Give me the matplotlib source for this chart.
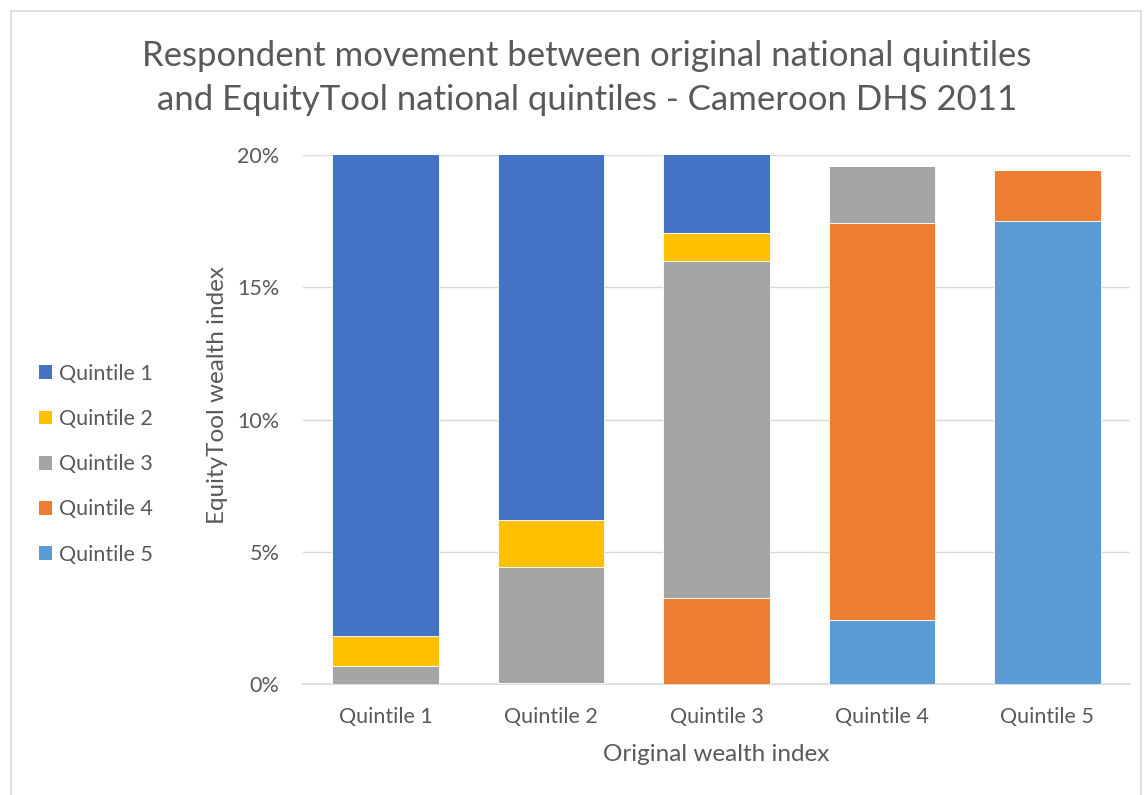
import matplotlib
matplotlib.use("Agg")
import matplotlib.pyplot as plt
from matplotlib.lines import Line2D
from matplotlib.patches import Patch
import numpy as np

plt.rcParams['font.family'] = ['Lato', 'DejaVu Sans']

# original wealth quintile (x categories)
categories = ["Quintile 1", "Quintile 2", "Quintile 3", "Quintile 4", "Quintile 5"]

# share of respondents (%) in each EquityTool quintile, per original quintile
q5 = [0.0, 0.0, 0.0, 2.42, 17.49]
q4 = [0.0, 0.04, 3.24, 15.00, 1.94]
q3 = [0.69, 4.38, 12.75, 2.15, 0.02]
q2 = [1.12, 1.78, 1.06, 0.03, 0.0]
q1 = [18.4, 14.0, 3.0, 0.0, 0.0]

series = [("Quintile 1", q1, "#4472C4"),
          ("Quintile 2", q2, "#FFC000"),
          ("Quintile 3", q3, "#A5A5A5"),
          ("Quintile 4", q4, "#ED7D31"),
          ("Quintile 5", q5, "#5B9BD5")]

text_col = "#595959"

fig = plt.figure(figsize=(11.46, 7.95), dpi=100)
ax = fig.add_axes([0.2644, 0.1396, 0.7216, 0.6654])

x = np.arange(len(categories))
bottom = np.zeros(len(categories))
# stack from Quintile 5 at the bottom up to Quintile 1
for name, vals, col in series[::-1]:
    vals = np.array(vals)
    ax.bar(x, vals, 0.645, bottom=bottom, color=col, edgecolor="white",
           linewidth=0.6, zorder=3)
    bottom += vals

ax.set_xlim(-0.5, 4.5)
ax.set_ylim(0, 20)
ax.set_yticks([0, 5, 10, 15, 20])
ax.set_yticklabels(["0%", "5%", "10%", "15%", "20%"])
ax.set_xticks(x)
ax.set_xticklabels(categories)
ax.yaxis.grid(True, color="#D9D9D9", linewidth=1.0, zorder=0)
for s in ["top", "right", "left"]:
    ax.spines[s].set_visible(False)
ax.spines["bottom"].set_color("#D9D9D9")
ax.spines["bottom"].set_linewidth(1.2)
ax.tick_params(axis="both", length=0, labelsize=15.5, colors=text_col)
ax.tick_params(axis="y", pad=17)
ax.tick_params(axis="x", pad=16.5)

ax.set_xlabel("Original wealth index", fontsize=17.5, color=text_col, labelpad=12)
fig.text(0.19, 0.503, "EquityTool wealth index", rotation=90, fontsize=17.5,
         color=text_col, ha="center", va="center")

fig.text(0.512, 0.93, "Respondent movement between original national quintiles",
         fontsize=25, color=text_col, ha="center", va="center")
fig.text(0.512, 0.874, "and EquityTool national quintiles - Cameroon DHS 2011",
         fontsize=25, color=text_col, ha="center", va="center")

handles = [Patch(facecolor=c, edgecolor="none") for _, _, c in series]
labels = [n for n, _, _ in series]
fig.legend(handles, labels, loc="center left", bbox_to_anchor=(0.017, 0.416),
           frameon=False, fontsize=15.5, labelcolor=text_col, handlelength=0.6,
           handleheight=0.6, handletextpad=0.35, labelspacing=1.17)

# light outer chart border
for xs, ys in [([0.0096, 0.0096], [0.0, 0.986]),
               ([0.0096, 0.996], [0.986, 0.986]),
               ([0.996, 0.996], [0.0, 0.986])]:
    fig.add_artist(Line2D(xs, ys, color="#D9D9D9", linewidth=1.2,
                          transform=fig.transFigure))

fig.savefig("out.png", dpi=100)
